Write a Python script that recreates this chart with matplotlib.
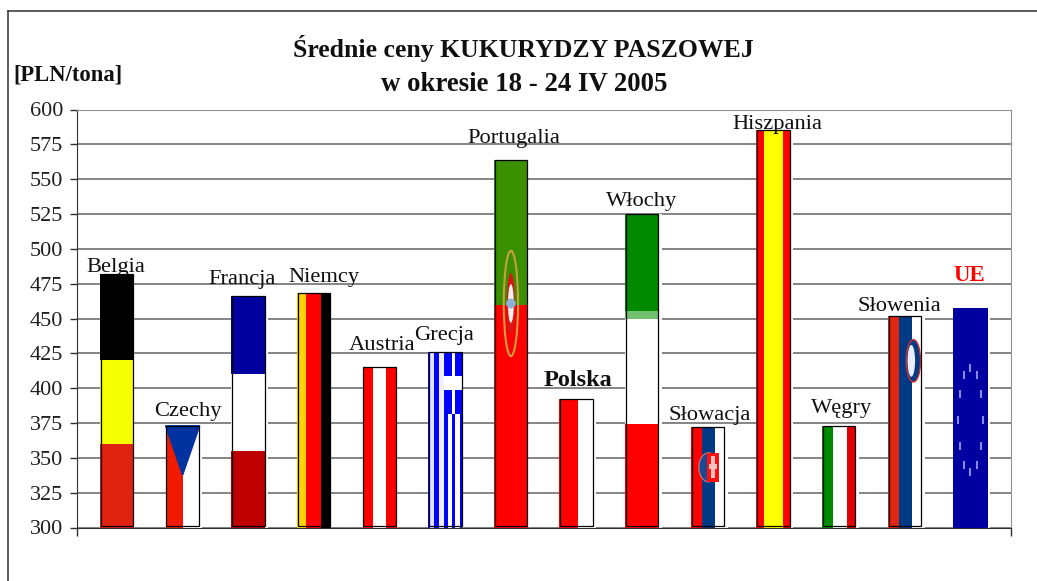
import matplotlib
matplotlib.use('Agg')
import matplotlib.pyplot as plt
import numpy as np
from matplotlib.lines import Line2D
from matplotlib.patches import Ellipse, Polygon, Rectangle

plt.rcParams['font.family'] = ['Liberation Serif', 'DejaVu Serif']

# data
countries = ['Belgia', 'Czechy', 'Francja', 'Niemcy', 'Austria', 'Grecja', 'Portugalia',
             'Polska', 'Włochy', 'Słowacja', 'Hiszpania', 'Węgry', 'Słowenia', 'UE']
prices = [482, 373, 466, 468, 415, 426, 564, 392, 525, 372, 585, 373, 452, 457.5]
yticks = list(range(300, 625, 25))

# flag stripes: (direction, [(end fraction, colour), ...]), h goes bottom up, v goes left to right
RED = '#ff0000'
NAVY = '#003a85'
GREEN = '#008a00'
stripes = {
    'Belgia': ('h', [(0.33, '#e0230f'), (0.66, '#f5ff00'), (1, 'black')]),
    'Czechy': ('v', [(0.5, '#f01a00'), (1, 'white')]),
    'Francja': ('h', [(0.33, '#be0000'), (0.665, 'white'), (1, '#0000a0')]),
    'Niemcy': ('v', [(0.28, '#ffd200'), (0.72, RED), (1, 'black')]),
    'Austria': ('v', [(0.3, RED), (0.7, 'white'), (1, RED)]),
    'Grecja': ('v', [(0.05, 'blue'), (0.18, '#e0e0ff'), (0.33, 'blue'), (0.46, '#f0f0ff'),
                     (0.59, 'blue'), (0.69, 'white'), (0.8, 'blue'), (0.93, 'white'), (1, 'blue')]),
    'Portugalia': ('h', [(0.606, RED), (1, '#3a9000')]),
    'Polska': ('v', [(0.53, RED), (1, 'white')]),
    'Włochy': ('h', [(0.33, RED), (0.665, 'white'), (0.69, '#70c070'), (1, GREEN)]),
    'Słowacja': ('v', [(0.33, RED), (0.7, NAVY), (1, 'white')]),
    'Hiszpania': ('v', [(0.22, RED), (0.78, '#ffff00'), (1, RED)]),
    'Węgry': ('v', [(0.33, GREEN), (0.72, 'white'), (1, '#e00000')]),
    'Słowenia': ('v', [(0.33, '#e0260f'), (0.7, NAVY), (1, 'white')]),
    'UE': ('h', [(1, '#0000a0')]),
}
gap_right = ['Czechy', 'Francja', 'Polska', 'Włochy', 'Słowacja', 'Hiszpania', 'Węgry', 'Słowenia', 'UE']

# label offset from top centre of bar, pixels
label_offset = [(-1, 2), (5, 10), (-6, 12), (10, 11), (2, 17), (-1, 12), (3, 17),
                (1, 13), (-1, 8), (2, 7), (4, 1), (2, 13), (-5, 5), (-1, 27)]

W, H = 1037, 581
fig = plt.figure(figsize=(W / 100, H / 100), dpi=100)
ax = fig.add_axes([77 / W, 1 - 527.5 / H, (1010.6 - 77) / W, (527.5 - 109.5) / H])
bar_w = 0.52


def spot(i, fx, fy):
    # fraction of a bar to data coordinates
    return i - bar_w / 2 + fx * bar_w, 300 + fy * (prices[i] - 300)


def sized(i, fw, fh):
    return fw * bar_w, fh * (prices[i] - 300)


def oval(i, fx, fy, fw, fh, **kw):
    w, h = sized(i, fw, fh)
    ax.add_patch(Ellipse(spot(i, fx, fy), w, h, zorder=4, **kw))


def box(i, fx0, fy0, fx1, fy1, color):
    x, y = spot(i, fx0, fy0)
    w, h = sized(i, fx1 - fx0, fy1 - fy0)
    ax.add_patch(Rectangle((x, y), w, h, facecolor=color, edgecolor='none', zorder=4))


for i, name in enumerate(countries):
    v = prices[i]
    if name in gap_right:
        ax.bar(i + 0.02, v - 300, bar_w + 0.04, bottom=300, color='white', zorder=2)
    direction, parts = stripes[name]
    start = 0
    for end, col in parts:
        if direction == 'h':
            ax.bar(i, (end - start) * (v - 300), bar_w, bottom=300 + start * (v - 300), color=col, zorder=3)
        else:
            ax.bar(i - bar_w / 2 + (start + end) / 2 * bar_w, v - 300, (end - start) * bar_w,
                   bottom=300, color=col, zorder=3)
        start = end

# emblems
k = countries.index('Czechy')
ax.add_patch(Polygon([spot(k, 0, 1), spot(k, 1, 1), spot(k, 0.5, 0.516)], color='#0033a0', zorder=4))

k = countries.index('Grecja')
box(k, 0.46, 0.646, 1, 1, 'blue')
box(k, 0.46, 0.786, 1, 0.862, 'white')
box(k, 0.69, 0.646, 0.8, 1, 'white')

k = countries.index('Portugalia')
oval(k, 0.5, 0.609, 0.42, 0.286, facecolor='none', edgecolor='#c8a040', lw=1.5)
oval(k, 0.5, 0.609, 0.24, 0.166, facecolor='#d81818', edgecolor='none')
oval(k, 0.5, 0.609, 0.17, 0.105, facecolor='#f4f0f0', edgecolor='none')
oval(k, 0.5, 0.609, 0.28, 0.027, facecolor='#90b0d8', edgecolor='none')

k = countries.index('Słowacja')
oval(k, 0.52, 0.6, 0.57, 0.29, facecolor='#1c4a90', edgecolor='#d08080', lw=0.8)
box(k, 0.47, 0.455, 0.83, 0.745, '#ff1010')
box(k, 0.6, 0.49, 0.7, 0.71, '#ffc0c0')
box(k, 0.52, 0.58, 0.78, 0.63, '#ffc0c0')

k = countries.index('Słowenia')
oval(k, 0.75, 0.787, 0.42, 0.2, facecolor=NAVY, edgecolor='#d03030', lw=1)
oval(k, 0.69, 0.787, 0.22, 0.15, facecolor='#e8eef8', edgecolor='none')

k = countries.index('UE')
for a in np.arange(12) * np.pi / 6:
    x, y = spot(k, 0.5 + 0.36 * np.cos(a), 0.49 + 0.237 * np.sin(a))
    ax.plot(x, y, marker='|', ms=6, mew=1.5, color='#8888e8', zorder=4)

# outlines sit slightly inside the picture
for i, name in enumerate(countries):
    if name == 'UE':
        continue
    ax.bar(i, prices[i] - 301, bar_w - 0.025, bottom=301, facecolor='none', edgecolor='black', lw=0.9, zorder=5)

for i, name in enumerate(countries):
    dx, dy = label_offset[i]
    size, weight, col = 16.2, 'normal', '#101010'
    if name == 'Polska':
        size, weight = 17.5, 'bold'
    if name == 'UE':
        size, weight, col = 16.5, 'bold', RED
    ax.annotate(name, (i, prices[i]), xytext=(dx * 0.72, dy * 0.72), textcoords='offset points',
                ha='center', va='baseline', fontsize=size, fontweight=weight, color=col, zorder=6)

ax.set_xlim(-0.609, 13.611)
ax.set_ylim(300, 600)
ax.set_yticks(yticks)
ax.set_xticks([-0.609, 13.611])
ax.set_xticklabels([])
ax.tick_params(axis='y', labelsize=16, length=5, width=1, color='#303030', pad=5, labelcolor='#202020')
ax.tick_params(axis='x', length=6, width=1, color='#303030')
ax.grid(axis='y', color='#707070', lw=1.2, zorder=1)
ax.set_axisbelow(True)
for s in ['top', 'right']:
    ax.spines[s].set_color('#909090')
for s in ['left', 'bottom']:
    ax.spines[s].set_color('#303030')

fig.text(523.5 / W, 1 - 57 / H, 'Średnie ceny KUKURYDZY PASZOWEJ', ha='center', va='baseline',
         fontsize=18.5, fontweight='bold', color='#101010')
fig.text(524 / W, 1 - 91 / H, 'w okresie 18 - 24 IV 2005', ha='center', va='baseline',
         fontsize=19.3, fontweight='bold', color='#101010')
fig.text(13 / W, 1 - 80 / H, '[PLN/tona]', ha='left', va='baseline',
         fontsize=16.3, fontweight='bold', color='#101010')

# outer frame is cut off at right and bottom
fig.add_artist(Line2D([8 / W, 8 / W], [0, 1 - 11 / H], color='#303030', lw=1.1))
fig.add_artist(Line2D([8 / W, 1], [1 - 11 / H, 1 - 11 / H], color='#303030', lw=1.1))

fig.savefig('out.png', dpi=100)
